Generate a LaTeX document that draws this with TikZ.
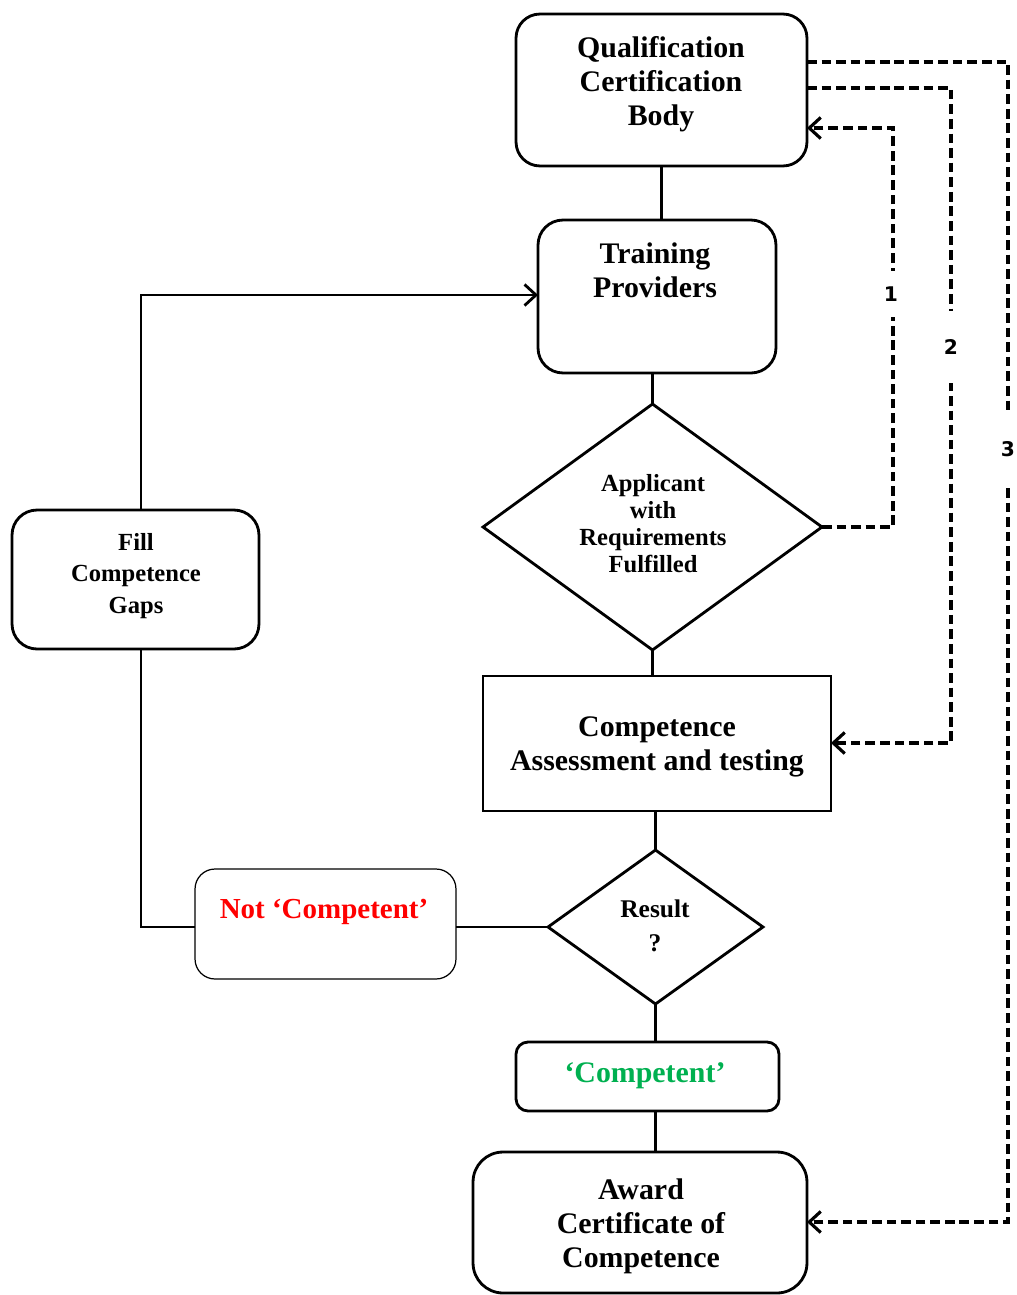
\documentclass[tikz,border=0pt]{standalone}
\usepackage{fontspec}
\setmainfont{Liberation Serif}
\newfontfamily\digitfont{DejaVu Sans}
\usetikzlibrary{shapes.geometric,arrows.meta}
\definecolor{notred}{RGB}{255,0,0}
\definecolor{okgreen}{RGB}{0,176,80}
\begin{document}
\begin{tikzpicture}[x=0.02cm,y=-0.02cm,
  box/.style={draw, line width=1.6pt, inner sep=0pt, outer sep=0pt},
  rbox/.style={box, rounded corners=#1},
  dbox/.style={box, diamond},
  big/.style={font=\bfseries\fontsize{17}{19.3}\selectfont, align=center, inner sep=0pt},
  small/.style={font=\bfseries\fontsize{14}{15.4}\selectfont, align=center, inner sep=0pt},
  flow/.style={line width=1.6pt},
  link/.style={line width=1.8pt, dash pattern=on 5.5pt off 2.8pt},
  tip/.style={-{Straight Barb[length=6.5pt,width=12pt]}},
  numlbl/.style={fill=white, inner sep=0pt, minimum width=0.8cm,
    font=\digitfont\bfseries\fontsize{11.5}{14}\selectfont}
]
\useasboundingbox (0,0) rectangle (1017,1295);

% ---- shapes ----
\node (qcb)   [rbox=0.48cm, minimum width=5.82cm, minimum height=3.04cm] at (661.5,90) {};
\node (tp)    [rbox=0.5cm,  minimum width=4.76cm, minimum height=3.06cm] at (657,296.5) {};
\node (appl)  [dbox, minimum width=6.78cm, minimum height=4.92cm] at (652.5,527) {};
\node (ca)    [box, minimum width=6.96cm, minimum height=2.70cm] at (657,743.5) {};
\node (res)   [dbox, minimum width=4.30cm, minimum height=3.08cm] at (655.5,927) {};
\node (nc)    [draw, line width=0.7pt, rounded corners=0.4cm, inner sep=0pt, outer sep=0pt,
               minimum width=5.22cm, minimum height=2.20cm] at (325.5,924) {};
\node (fill)  [rbox=0.5cm,  minimum width=4.94cm, minimum height=2.78cm] at (135.5,579.5) {};
\node (comp)  [rbox=0.24cm, minimum width=5.26cm, minimum height=1.38cm] at (647.5,1076.5) {};
\node (award) [rbox=0.6cm,  minimum width=6.68cm, minimum height=2.82cm] at (640,1222.5) {};

% ---- texts ----
\node (qcbt)   [big] at (661,84)  {Qualification\\Certification\\Body};
\node (tpt)    [big] at (655,270) {Training\\Providers};
\node (applt)  [small] at (653,524) {Applicant\\with\\Requirements\\Fulfilled};
\node (cat)    [big] at (657,747) {Competence\\Assessment and testing};
\node (rest)   [small, font=\bfseries\fontsize{14.5}{19.3}\selectfont] at (655,926) {Result\\?};
\node (nct)    [big, text=notred, font=\bfseries\fontsize{16.5}{19}\selectfont] at (324,912) {Not `Competent'};
\node (fillt)  [small, font=\bfseries\fontsize{14}{18.1}\selectfont] at (136,576) {Fill\\Competence\\Gaps};
\node (compt)  [big, text=okgreen] at (645,1076) {`Competent'};
\node (awardt) [big] at (641,1226) {Award\\Certificate of\\Competence};

% ---- main flow ----
\draw[flow] (qcb.south) -- (qcb.south |- tp.north);
\draw[flow] (appl.north |- tp.south) -- (appl.north);
\draw[flow] (appl.south) -- (appl.south |- ca.north);
\draw[flow] (res.north |- ca.south) -- (res.north);
\draw[flow] (res.south) -- (res.south |- comp.north);
\draw[flow] (res.south |- comp.south) -- (res.south |- award.north);
\draw[flow] (res.west) -- (nc.east |- res.west);

% ---- loop back through the competence gaps ----
\coordinate (lf) at (141,927);
\coordinate (lt) at (141,295);
\draw[flow] (nc.west |- lf) -- (lf) -- (lf |- fill.south);
\draw[flow, tip] (lf |- fill.north) -- (lt) -- (tp.west |- lt);

% ---- dashed links ----
\coordinate (d1a) at (893,527);
\coordinate (d1b) at (893,128);
\coordinate (d2a) at (951,88);
\coordinate (d2b) at (951,743);
\coordinate (d3a) at (1008,62);
\coordinate (d3b) at (1008,1222);
\draw[link, tip] (appl.east) -- (d1a) -- (d1b) -- (qcb.east |- d1b);
\draw[link, tip] (qcb.east |- d2a) -- (d2a) -- (d2b) -- (ca.east |- d2b);
\draw[link, tip] (qcb.east |- d3a) -- (d3a) -- (d3b) -- (award.east |- d3b);

\node (n1) [numlbl, minimum height=0.92cm] at (891,294) {1};
\node (n2) [numlbl, minimum height=1.44cm] at (951,347) {2};
\node (n3) [numlbl, minimum height=1.44cm] at (1008,449) {3};
\end{tikzpicture}
\end{document}
